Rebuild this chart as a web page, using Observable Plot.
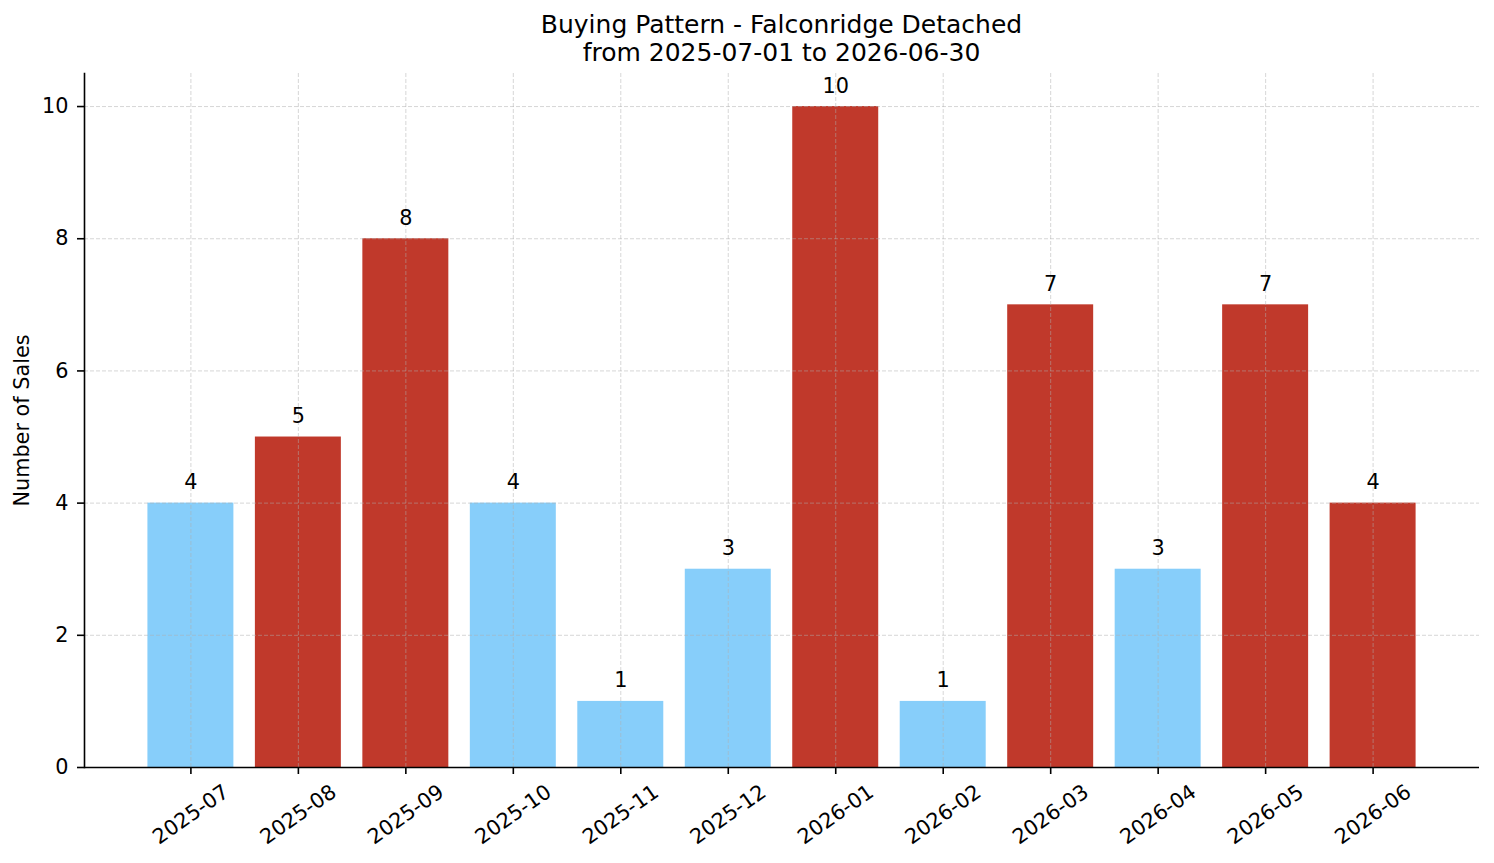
<!DOCTYPE html>
<html>
<head>
<meta charset="utf-8">
<script src="https://cdn.jsdelivr.net/npm/d3@7"></script>
<script src="https://cdn.jsdelivr.net/npm/@observablehq/plot@0.6"></script>
<style>
  body { margin: 0; background: #fff; font-family: "DejaVu Sans", sans-serif; }
  #wrap { position: relative; width: 1494px; height: 863px; }
  #title { position: absolute; left: 84px; width: 1395px; top: 11px; text-align: center;
           font-size: 25px; line-height: 28px; color: #000; }
  svg { display: block; }
</style>
</head>
<body>
<div id="wrap">
  <div id="title">Buying Pattern - Falconridge Detached<br>from 2025-07-01 to 2026-06-30</div>
  <div id="chart"></div>
</div>
<script>
const months = ["2025-07","2025-08","2025-09","2025-10","2025-11","2025-12","2026-01","2026-02","2026-03","2026-04","2026-05","2026-06"];
const sales = [4, 5, 8, 4, 1, 3, 10, 1, 7, 3, 7, 4];
const groups = ["low","high","high","low","low","low","high","low","high","low","high","high"];
const yTicks = [0, 2, 4, 6, 8, 10];
const yLabel = "Number of Sales";

const data = months.map((m, i) => ({month: m, sales: sales[i], group: groups[i]}));
const fs = 20.8;

const chart = Plot.plot({
  width: 1494,
  height: 863,
  marginLeft: 84,
  marginRight: 15,
  marginTop: 73,
  marginBottom: 96,
  style: {fontFamily: "DejaVu Sans, sans-serif", fontSize: fs + "px", color: "#000", background: "#fff"},
  x: {type: "band", domain: months, paddingInner: 0.2, paddingOuter: 0.59, align: 0.5, round: false, label: null},
  y: {domain: [0, 10.5], label: null},
  color: {domain: ["low", "high"], range: ["#87CEFA", "#C0392B"]},
  marks: [
    Plot.barY(data, {x: "month", y: "sales", fill: "group"}),
    Plot.gridX(months, {x: d => d, stroke: "#b0b0b0", strokeOpacity: 0.5, strokeWidth: 1, strokeDasharray: "4,2"}),
    Plot.gridY(yTicks, {y: d => d, stroke: "#b0b0b0", strokeOpacity: 0.5, strokeWidth: 1, strokeDasharray: "4,2"}),
    Plot.text(data, {x: "month", y: "sales", text: d => String(d.sales), dy: -14, lineAnchor: "bottom", fill: "#000", fontSize: fs}),
    Plot.axisY({ticks: yTicks, tickSize: 7, tickPadding: 9, tickFormat: d => String(d), stroke: "#000", strokeWidth: 1.6, fontSize: fs, label: null}),
    Plot.axisX({tickSize: 7, tickFormat: () => "", stroke: "#000", strokeWidth: 1.6, label: null}),
    Plot.text(months, {x: d => d, text: d => d, frameAnchor: "bottom", dy: 47, rotate: -35, textAnchor: "middle", lineAnchor: "middle", fill: "#000", fontSize: fs}),
    Plot.frame({anchor: "left", stroke: "#000", strokeWidth: 1.6}),
    Plot.ruleY([0], {stroke: "#000", strokeWidth: 1.6}),
    Plot.text([yLabel], {text: d => d, frameAnchor: "left", dx: -62, rotate: -90, textAnchor: "middle", lineAnchor: "middle", fill: "#000", fontSize: fs})
  ]
});
document.getElementById("chart").appendChild(chart);
</script>
</body>
</html>
